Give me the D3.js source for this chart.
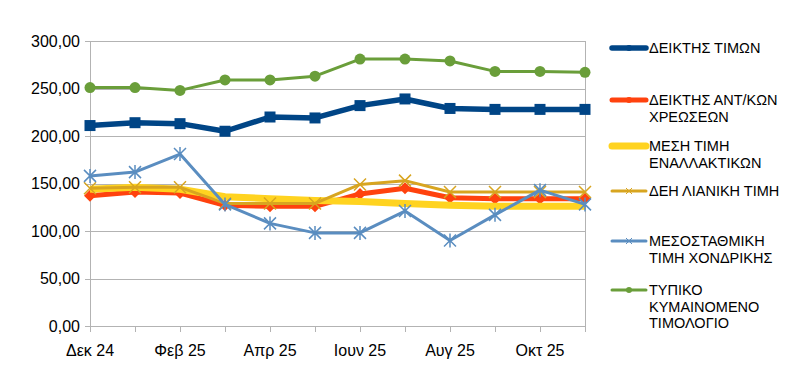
<!DOCTYPE html>
<html>
<head>
<meta charset="utf-8">
<script src="https://cdn.jsdelivr.net/npm/d3@7"></script>
<style>
  body { margin: 0; background: #fff; }
  text { font-family: "Liberation Sans", Arial, sans-serif; fill: #000; }
</style>
</head>
<body>
<svg id="chart" width="794" height="370"></svg>
<script>
const months = ["Δεκ 24", "Ιαν 25", "Φεβ 25", "Μαρ 25", "Απρ 25", "Μαϊ 25",
                "Ιουν 25", "Ιουλ 25", "Αυγ 25", "Σεπ 25", "Οκτ 25", "Νοε 25"];

const deiktisTimon = [211, 214, 213, 205, 220, 219, 232, 239, 229, 228, 228, 228];
const deiktisAntKon = [137, 141, 140, 127, 126, 126, 139, 145, 135, 134, 134, 134];
const mesiEnallaktikon = [144, 146, 144, 136, 134, 132, 131, 129, 127, 126, 126, 126];
const deiLianiki = [145, 146, 146, 129, 129, 129, 149, 153, 141, 141, 141, 141];
const mesostathmiki = [158, 162, 181, 128, 108, 98, 98, 121, 90, 117, 143, 128];
const typiko = [251, 251, 248, 259, 259, 263, 281, 281, 279, 268, 268, 267];

const yTicks = [0, 50, 100, 150, 200, 250, 300];

const series = [
    { name: ["ΔΕΙΚΤΗΣ ΤΙΜΩΝ"], values: deiktisTimon, color: "#004586", width: 5.5, marker: "square", ly: 48 },
    { name: ["ΔΕΙΚΤΗΣ ΑΝΤ/ΚΩΝ", "ΧΡΕΩΣΕΩΝ"], values: deiktisAntKon, color: "#ff420e", width: 5, marker: "diamond", ly: 100 },
    { name: ["ΜΕΣΗ ΤΙΜΗ", "ΕΝΑΛΛΑΚΤΙΚΩΝ"], values: mesiEnallaktikon, color: "#ffd320", width: 7, marker: null, ly: 146 },
    { name: ["ΔΕΗ ΛΙΑΝΙΚΗ ΤΙΜΗ"], values: deiLianiki, color: "#d8a520", width: 3, marker: "x", ly: 191 },
    { name: ["ΜΕΣΟΣΤΑΘΜΙΚΗ", "ΤΙΜΗ ΧΟΝΔΡΙΚΗΣ"], values: mesostathmiki, color: "#5a8dc0", width: 3, marker: "star", ly: 241 },
    { name: ["ΤΥΠΙΚΟ", "ΚΥΜΑΙΝΟΜΕΝΟ", "ΤΙΜΟΛΟΓΙΟ"], values: typiko, color: "#6a9e3a", width: 3, marker: "circle", ly: 290 }
];

const plot = { left: 90, right: 585, top: 41, bottom: 326 };

const svg = d3.select("#chart");

const x = d3.scalePoint().domain(months).range([plot.left, plot.right]);
const y = d3.scaleLinear().domain([0, 300]).range([plot.bottom, plot.top]);

const fmt = v => d3.format(".2f")(v).replace(".", ",");

// grid
svg.append("g")
    .selectAll("line")
    .data(yTicks)
    .enter()
    .append("line")
    .attr("x1", plot.left - 5)
    .attr("x2", plot.right)
    .attr("y1", d => Math.round(y(d)) + 0.5)
    .attr("y2", d => Math.round(y(d)) + 0.5)
    .style("stroke", "#b3b3b3");

svg.append("line")
    .attr("x1", plot.left + 0.5).attr("x2", plot.left + 0.5)
    .attr("y1", plot.top).attr("y2", plot.bottom + 6)
    .style("stroke", "#b3b3b3");
svg.append("line")
    .attr("x1", plot.right + 0.5).attr("x2", plot.right + 0.5)
    .attr("y1", plot.top).attr("y2", plot.bottom + 6)
    .style("stroke", "#b3b3b3");

// x ticks
svg.append("g")
    .selectAll("line")
    .data(months)
    .enter()
    .append("line")
    .attr("x1", d => Math.round(x(d)) + 0.5)
    .attr("x2", d => Math.round(x(d)) + 0.5)
    .attr("y1", plot.bottom)
    .attr("y2", plot.bottom + 6)
    .style("stroke", "#b3b3b3");

// y labels
svg.append("g")
    .selectAll("text")
    .data(yTicks)
    .enter()
    .append("text")
    .attr("x", plot.left - 10)
    .attr("y", d => y(d))
    .attr("dy", "0.35em")
    .attr("text-anchor", "end")
    .style("font-size", "16px")
    .text(fmt);

// x labels every other month
svg.append("g")
    .selectAll("text")
    .data(months.filter((d, i) => i % 2 === 0))
    .enter()
    .append("text")
    .attr("x", d => x(d))
    .attr("y", 356)
    .attr("text-anchor", "middle")
    .style("font-size", "16px")
    .text(d => d);

const drawMarker = function(g, type, cx, cy, color) {
    if (type === "square") {
        g.append("rect").attr("x", cx - 5.5).attr("y", cy - 5.5).attr("width", 11).attr("height", 11)
            .style("fill", color);
    } else if (type === "diamond") {
        g.append("path").attr("d", `M${cx},${cy - 6}L${cx + 6},${cy}L${cx},${cy + 6}L${cx - 6},${cy}Z`)
            .style("fill", color);
    } else if (type === "circle") {
        g.append("circle").attr("cx", cx).attr("cy", cy).attr("r", 5.5).style("fill", color);
    } else if (type === "x") {
        g.append("path").attr("d", `M${cx - 6},${cy - 6}L${cx + 6},${cy + 6}M${cx + 6},${cy - 6}L${cx - 6},${cy + 6}`)
            .style("stroke", color).style("stroke-width", 1.5);
    } else if (type === "star") {
        g.append("path").attr("d", `M${cx - 6},${cy - 6}L${cx + 6},${cy + 6}M${cx + 6},${cy - 6}L${cx - 6},${cy + 6}M${cx},${cy - 7}L${cx},${cy + 7}`)
            .style("stroke", color).style("stroke-width", 1.5);
    }
};

const line = d3.line()
    .x((d, i) => x(months[i]))
    .y(d => y(d));

const lines = svg.append("g");
series.forEach(function(s) {
    let g = lines.append("g");
    g.append("path")
        .attr("d", line(s.values))
        .style("fill", "none")
        .style("stroke", s.color)
        .style("stroke-width", s.width)
        .style("stroke-linejoin", "round");
    if (s.marker) {
        s.values.forEach(function(v, i) {
            drawMarker(g, s.marker, x(months[i]), y(v), s.color);
        });
    }
});

// legend
const legend = svg.append("g");
series.forEach(function(s) {
    let g = legend.append("g");
    g.append("line")
        .attr("x1", 612).attr("x2", 646)
        .attr("y1", s.ly).attr("y2", s.ly)
        .style("stroke", s.color)
        .style("stroke-width", s.width)
        .style("stroke-linecap", "round");
    if (s.marker === "square" || s.marker === "diamond" || s.marker === "circle") {
        g.append("circle").attr("cx", 629).attr("cy", s.ly).attr("r", 3).style("fill", s.color);
    } else if (s.marker) {
        g.append("path")
            .attr("d", `M626,${s.ly - 3}L632,${s.ly + 3}M632,${s.ly - 3}L626,${s.ly + 3}`)
            .style("stroke", s.color).style("stroke-width", 1);
    }
    s.name.forEach(function(t, i) {
        g.append("text")
            .attr("x", 649)
            .attr("y", s.ly + i * 16.5)
            .attr("dy", "0.36em")
            .style("font-size", "14.5px")
            .text(t);
    });
});
</script>
</body>
</html>
